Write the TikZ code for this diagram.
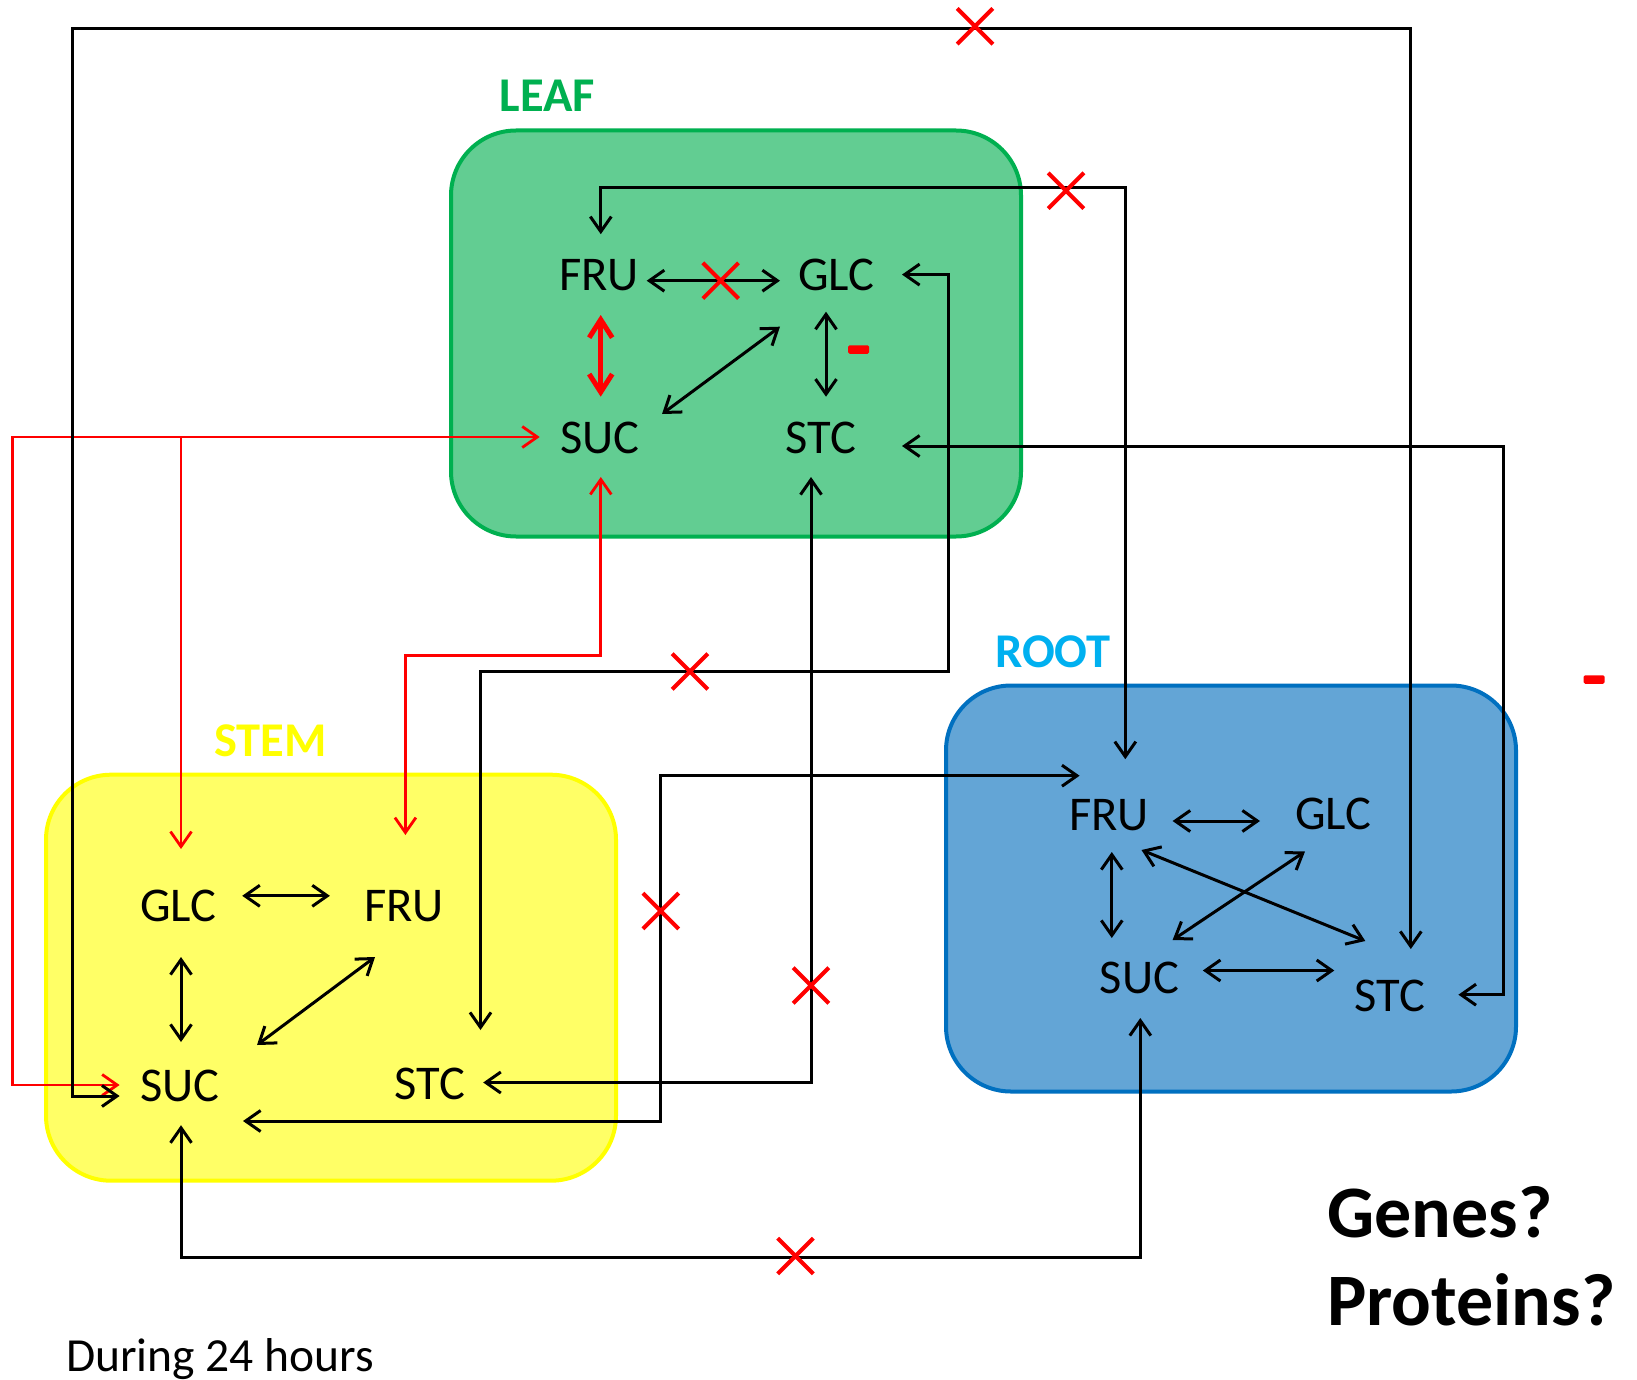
\documentclass[tikz,border=0pt]{standalone}
\usepackage{fontspec}
\setmainfont{Carlito}
\usetikzlibrary{arrows.meta,calc,shapes.misc}
\definecolor{leaffill}{RGB}{98,205,146}
\definecolor{leafline}{RGB}{0,176,80}
\definecolor{stemfill}{RGB}{255,255,102}
\definecolor{stemline}{RGB}{255,255,0}
\definecolor{rootfill}{RGB}{99,165,214}
\definecolor{rootline}{RGB}{0,112,192}
\definecolor{rootlbl}{RGB}{0,176,240}
\begin{document}
\begin{tikzpicture}[x=1pt,y=-1pt,
  >={Straight Barb[length=15pt,width=21pt]},
  conn/.style={line width=3pt},
  rconn/.style={line width=2.8pt, draw=red},
  thickred/.style={draw=red, line width=5pt, {Straight Barb[length=18pt,width=23pt]}-{Straight Barb[length=18pt,width=23pt]}},
  organ/.style={line width=4pt, rounded corners=65pt, minimum width=570pt, minimum height=406pt, inner sep=0pt},
  sugar/.style={inner sep=0pt, font=\fontsize{48.5}{58}\selectfont},
  boxlbl/.style={inner sep=0pt, font=\fontsize{48.5}{58}\selectfont\bfseries},
  xmark/.style={cross out, draw=red, line width=4pt, minimum size=31.7pt, inner sep=0pt},
  minus/.style={fill=red, minimum width=21pt, minimum height=8.5pt, inner sep=0pt, rounded corners=1.5pt}]
\useasboundingbox (0,0) rectangle (1637,1380);
\fill[white] (0,0) rectangle (1637,1380);

% organ boxes
\node[organ, draw=leafline, fill=leaffill] (leafbox) at (736,333.5) {};
\node[organ, draw=stemline, fill=stemfill] (stembox) at (331,977.7) {};
\node[organ, draw=rootline, fill=rootfill] (rootbox) at (1231,888.5) {};

\node[boxlbl, text=leafline] (leaflbl) at (547.6,96) {LEAF};
\node[boxlbl, text=stemline] (stemlbl) at (270.4,741.2) {STEM};
\node[boxlbl, text=rootlbl] (rootlbl) at (1053,652) {ROOT};

% sugar nodes
\node[sugar] (lFRU) at (599,275) {FRU};
\node[sugar] (lGLC) at (836.5,275) {GLC};
\node[sugar] (lSUC) at (600,438) {SUC};
\node[sugar] (lSTC) at (821,438) {STC};

\node[sugar] (sGLC) at (178.5,906) {GLC};
\node[sugar] (sFRU) at (404,906) {FRU};
\node[sugar] (sSUC) at (180,1086) {SUC};
\node[sugar] (sSTC) at (430,1084) {STC};

\node[sugar] (rFRU) at (1109,815.5) {FRU};
\node[sugar] (rGLC) at (1333.5,813.5) {GLC};
\node[sugar] (rSUC) at (1139.5,978) {SUC};
\node[sugar] (rSTC) at (1390,996) {STC};

% leaf internal
\draw[conn,<->] ($(lFRU)+(47.7,5.7)$) -- ($(lGLC)+(-56.5,5.7)$);
\draw[thickred] ($(lFRU)+(1.7,40)$) -- ($(lSUC)+(0.7,-41.3)$);
\draw[conn,<->] ($(lSUC)+(62,-24)$) -- ($(lGLC)+(-56.5,51.7)$);
\draw[conn,<->] ($(lGLC)+(-10.5,36.7)$) -- ($(lSTC)+(5,-41.3)$);

% stem internal
\draw[conn,<->] ($(sGLC)+(63.7,-10.2)$) -- ($(sFRU)+(-74.1,-10.2)$);
\draw[conn,<->] ($(sGLC)+(2.5,51)$) -- ($(sSUC)+(1,-44)$);
\draw[conn,<->] ($(sSUC)+(77,-41)$) -- ($(sFRU)+(-29,51)$);

% root internal
\draw[conn,<->] ($(rFRU)+(63.6,5.5)$) -- ($(rGLC)+(-73.5,7.5)$);
\draw[conn,<->] ($(rFRU)+(2.8,36.5)$) -- ($(rSUC)+(-27.7,-40)$);
\draw[conn,<->] ($(rSUC)+(33.1,-38)$) -- ($(rGLC)+(-28.5,38)$);
\draw[conn,<->] ($(rFRU)+(32.5,34.5)$) -- ($(rSTC)+(-24.7,-55)$);
\draw[conn,<->] ($(rSUC)+(63.3,-7.5)$) -- ($(rSTC)+(-55.7,-25.5)$);

% external connectors
\coordinate (cA1) at (12.5,437);
\coordinate (cA2) at (181,437);
\draw[rconn,<->] ($(lSUC)+(-60.3,-1)$) -- (cA1) |- ($(sSUC)+(-60.4,-1)$);
\draw[rconn,->] (cA2) -- ($(sGLC)+(2.5,-57)$);

\coordinate (cB) at (405.4,655.5);
\draw[rconn,<->] ($(lSUC)+(0.8,39)$) |- (cB) -- ($(sFRU)+(1.4,-71)$);

\coordinate (cC) at (948.5,671.5);
\draw[conn,<->] ($(lGLC)+(65.5,-0.4)$) -| (cC) -| ($(sSTC)+(50.5,-54)$);

\draw[conn,<->] ($(lSTC)+(-10,39)$) |- ($(sSTC)+(53.2,-1.5)$);

\coordinate (cE) at (1503.6,994.7);
\draw[conn,<->] ($(lSTC)+(81,8)$) -| (cE) -- ($(rSTC)+(68.4,-1.3)$);

\coordinate (cF) at (1125.3,187.6);
\draw[conn,<->] ($(lFRU)+(1.8,-40.8)$) |- (cF) -- ($(rFRU)+(16.3,-56.3)$);

\coordinate (cG) at (72.8,28.2);
\draw[conn,<->] ($(sSUC)+(-60.4,10)$) -| (cG) -| ($(rSTC)+(20.8,-47)$);

\coordinate (cH) at (660.8,775.7);
\draw[conn,<->] ($(sSUC)+(63,35)$) -| (cH) -- ($(rFRU)+(-29.4,-39.8)$);

\coordinate (cI) at (1140.3,1257);
\draw[conn,<->] ($(sSUC)+(1,39.2)$) |- (cI) -- ($(rSUC)+(0.8,40)$);

% inhibition marks
\node[xmark] (x1) at (720.7,280.7) {};
\node[xmark] (x2) at (1066,190.7) {};
\node[xmark] (x3) at (975,26.3) {};
\node[xmark] (x4) at (690,671.5) {};
\node[xmark] (x5) at (660.8,911) {};
\node[xmark] (x6) at (811,985.5) {};
\node[xmark] (x7) at (795.5,1256) {};

\node[minus] (m1) at (858.5,349.5) {};
\node[minus] (m2) at (1594,679.5) {};

% texts
\node[anchor=base west, inner sep=0pt, font=\fontsize{74}{88}\selectfont\bfseries] (genes) at (1327,1237) {Genes?};
\node[anchor=base west, inner sep=0pt, font=\fontsize{74}{88}\selectfont\bfseries] (proteins) at (1327,1325) {Proteins?};
\node[anchor=base west, inner sep=0pt, font=\fontsize{47.5}{57}\selectfont] (during) at (66,1371) {During 24 hours};
\end{tikzpicture}
\end{document}
